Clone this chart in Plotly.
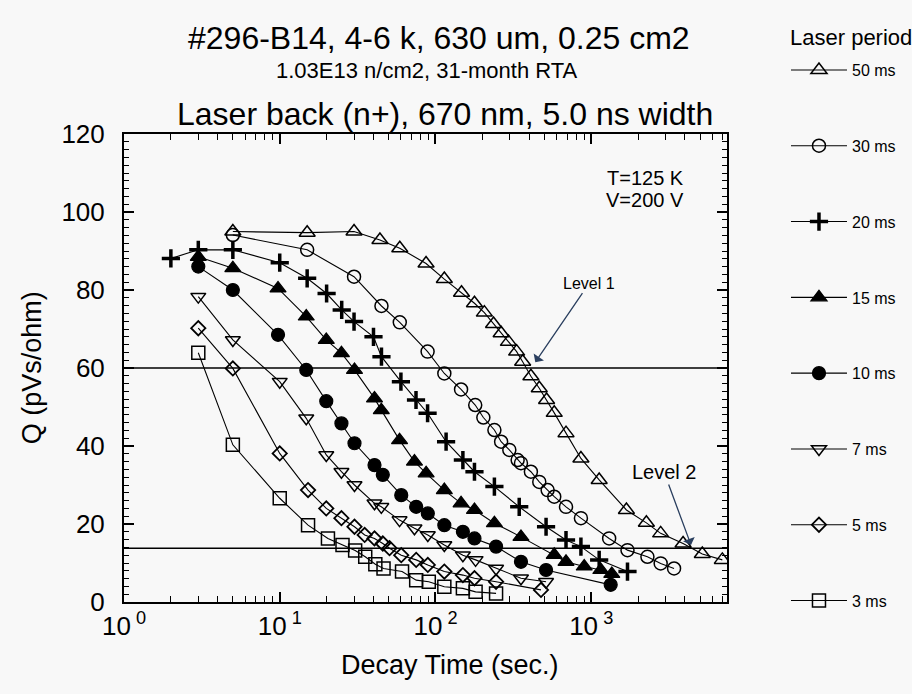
import plotly.graph_objects as go

# Decay time (s) and collected charge Q (pVs/ohm) for each laser period
t_50 = [5, 15, 30, 44, 59, 87, 114, 147, 178, 206, 236, 264, 294, 332, 363, 410, 464, 517, 579, 689, 859, 1125, 1683, 2261, 2793, 3890, 5170, 6950]
q_50 = [95, 94.7, 95, 92.8, 90.7, 86.8, 82.8, 79.3, 76.6, 74.2, 71.3, 68.9, 66.7, 64.2, 61.6, 57.9, 54.8, 51.8, 48.5, 43.3, 36.8, 31.3, 23.6, 20.3, 17.6, 15.0, 12.3, 10.8]

t_30 = [5, 15, 30, 45, 59, 89, 114, 146, 180, 203, 239, 264, 298, 337, 354, 410, 464, 525, 579, 689, 859, 1304, 1710, 2296, 2793, 3404]
q_30 = [94.1, 90.3, 83.4, 75.9, 71.7, 64.2, 58.6, 54.5, 50.5, 47.3, 44.1, 41.1, 39.0, 36.4, 35.6, 33.4, 30.8, 28.7, 27.0, 24.4, 21.5, 16.3, 13.3, 11.6, 9.9, 8.6]

t_20 = [2, 3, 5, 10, 15, 20, 25, 30, 40, 45, 60, 75, 89, 117, 150, 178, 239, 345, 513, 689, 859, 1125, 1710]
q_20 = [88.1, 90.3, 90.3, 87.0, 83.0, 79.1, 74.9, 71.9, 68.0, 62.9, 56.5, 51.8, 48.4, 41.1, 36.4, 33.4, 29.6, 24.4, 19.3, 15.9, 14.2, 10.8, 7.8]

t_15 = [3, 5, 9.75, 14.8, 19.9, 24.9, 30.2, 40.6, 44.9, 58.8, 73.3, 87.1, 114, 146, 178, 239, 354, 579, 689, 902, 1153, 1356]
q_15 = [88.5, 85.6, 80.4, 73.2, 67.2, 63.8, 59.5, 52.2, 49.2, 41.5, 36.0, 33.0, 28.7, 25.3, 23.6, 20.2, 16.7, 12.1, 10.3, 9.1, 8.2, 7.2]

t_10 = [3, 5, 9.75, 14.8, 19.9, 24.9, 30.2, 40.6, 45.9, 60.3, 75.2, 89.3, 114, 150, 178, 245, 354, 513, 1334]
q_10 = [86.0, 80.0, 68.5, 59.5, 51.5, 45.8, 40.7, 35.1, 32.6, 27.4, 24.4, 22.7, 19.7, 18.0, 16.3, 14.2, 10.3, 8.2, 4.4]

t_7 = [3, 5, 10, 14.8, 19.9, 24.9, 30.2, 40.6, 44.9, 58.8, 73.3, 89.3, 114, 150, 181, 245, 354, 513]
q_7 = [78.3, 67.2, 56.5, 47.1, 37.7, 33.4, 30.0, 25.3, 24.4, 21.0, 18.9, 17.2, 14.6, 12.0, 10.8, 8.6, 6.1, 5.2]

t_5 = [3, 5, 10, 15.2, 19.9, 24.9, 30.2, 35.1, 40.6, 45.9, 50.7, 60.3, 75.2, 89.3, 114, 150, 178, 245, 476]
q_5 = [70.2, 59.9, 38.1, 28.7, 24.0, 21.5, 19.3, 17.2, 16.3, 15.0, 13.8, 12.0, 10.8, 9.5, 7.8, 6.9, 6.1, 5.2, 3.1]

t_3 = [3, 5, 10, 15.2, 20.4, 25.3, 30.5, 35.4, 41.1, 46.4, 61, 75.2, 90.6, 114, 150, 181, 245]
q_3 = [63.9, 40.3, 26.6, 19.7, 16.3, 14.6, 13.2, 11.6, 9.7, 8.6, 7.8, 5.6, 5.2, 3.9, 3.5, 2.6, 2.2]

period_labels = ["50 ms", "30 ms", "20 ms", "15 ms", "10 ms", "7 ms", "5 ms", "3 ms"]
series_t = [t_50, t_30, t_20, t_15, t_10, t_7, t_5, t_3]
series_q = [q_50, q_30, q_20, q_15, q_10, q_7, q_5, q_3]

# Threshold levels (pVs/ohm)
level_1 = 60
level_2 = 13.8

# Log-axis decade ticks
x_tickvals = [1, 10, 100, 1000]
x_ticktext = ["10<sup> 0</sup>", "10<sup> 1</sup>", "10<sup> 2</sup>", "10<sup> 3</sup>"]

symbols = ["triangle-up-open", "circle-open", "cross-thin", "triangle-up",
           "circle", "triangle-down-open", "diamond-open", "square-open"]
sizes = [14, 13, 13, 14, 13, 13, 11, 13]
mline = [1.5, 1.5, 3.5, 1.2, 1.2, 1.5, 1.8, 1.5]

FONT = "Liberation Sans, Arial, Helvetica, sans-serif"
BG = "#f8f8f8"

fig = go.Figure()
for i, (lab, t, q) in enumerate(zip(period_labels, series_t, series_q)):
    fig.add_trace(go.Scatter(
        x=t, y=q, name=lab, mode="lines+markers",
        legendgroup=lab,
        line=dict(color="black", width=1.1),
        marker=dict(symbol=symbols[i], size=sizes[i], color="black",
                    line=dict(color="black", width=mline[i])),
    ))

# Horizontal level lines
for lv in (level_1, level_2):
    fig.add_shape(type="line", xref="paper", x0=0, x1=1, yref="y", y0=lv, y1=lv,
                  line=dict(color="black", width=1.6))

annotations = [
    dict(text="#296-B14, 4-6 k, 630 um, 0.25 cm2", x=0.523, y=1.205, size=32),
    dict(text="1.03E13 n/cm2, 31-month RTA", x=0.502, y=1.135, size=22),
    dict(text="Laser back (n+), 670 nm, 5.0 ns width", x=0.532, y=1.043, size=32),
    dict(text="T=125 K", x=0.932, y=0.905, size=20, xanchor="right"),
    dict(text="V=200 V", x=0.932, y=0.86, size=20, xanchor="right"),
    dict(text="Q (pVs/ohm)", x=-0.152, y=0.5, size=27, textangle=-90),
    dict(text="Decay Time (sec.)", x=0.54, y=-0.135, size=27),
    dict(text="Laser period", x=1.205, y=1.207, size=22),
]
for a in annotations:
    size = a.pop("size")
    a.setdefault("xanchor", "center")
    fig.add_annotation(xref="paper", yref="paper", showarrow=False, yanchor="middle",
                       font=dict(family=FONT, color="black", size=size), **a)

# Level callouts with arrows
fig.add_annotation(x=2.641, y=61.5, xref="x", yref="y", text="Level 1",
                   showarrow=True, arrowhead=1, arrowsize=1.6, arrowwidth=1.3,
                   ax=54, ay=-79, font=dict(family=FONT, size=16, color="black"))
fig.add_annotation(x=3.641, y=14.6, xref="x", yref="y", text="Level 2",
                   showarrow=True, arrowhead=1, arrowsize=1.6, arrowwidth=1.3,
                   ax=-27, ay=-73, font=dict(family=FONT, size=20, color="black"))

axis_common = dict(showline=True, linecolor="black", linewidth=2, mirror="allticks",
                   ticks="inside", tickcolor="black", showgrid=False, zeroline=False,
                   tickfont=dict(family=FONT, size=26, color="black"))

fig.update_xaxes(type="log", range=[0, 3.872], tickvals=x_tickvals, ticktext=x_ticktext,
                 ticklen=10, tickwidth=1.5,
                 minor=dict(ticks="inside", ticklen=6, tickcolor="black", tickwidth=1, dtick="D1"),
                 **axis_common)
fig.update_yaxes(range=[0, 120], dtick=20, ticklen=10, tickwidth=1.5, ticklabelstandoff=12,
                 minor=dict(ticks="inside", ticklen=5, tickcolor="black", tickwidth=1, dtick=2),
                 **axis_common)

fig.update_layout(
    width=912, height=694,
    margin=dict(l=124, r=184, t=134, b=92),
    paper_bgcolor=BG, plot_bgcolor=BG,
    font=dict(family=FONT, color="black"),
    legend=dict(x=1.096, y=1.173, xanchor="left", yanchor="top",
                font=dict(family=FONT, size=16, color="black"),
                tracegroupgap=52, bgcolor="rgba(0,0,0,0)", itemwidth=56,
                maxheight=1.0),
)

fig.write_html("out.html")
